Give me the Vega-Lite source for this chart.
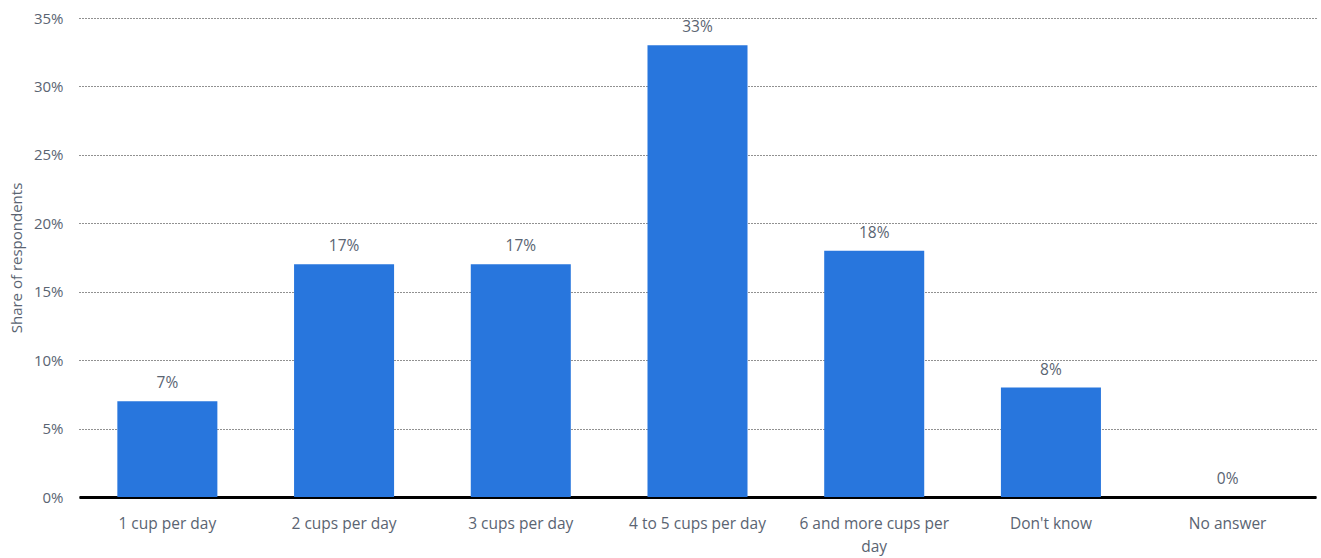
{
  "$schema": "https://vega.github.io/schema/vega-lite/v6.json",
  "autosize": {"type": "none"},
  "width": 1237,
  "height": 479,
  "padding": {"left": 79, "top": 18, "right": 5, "bottom": 61},
  "background": "white",
  "config": {
    "font": "Open Sans",
    "view": {"stroke": null}
  },
  "data": {
    "values": [
      {"category": "1 cup per day", "share": 0.07},
      {"category": "2 cups per day", "share": 0.17},
      {"category": "3 cups per day", "share": 0.17},
      {"category": "4 to 5 cups per day", "share": 0.33},
      {"category": "6 and more cups per day", "share": 0.18},
      {"category": "Don't know", "share": 0.08},
      {"category": "No answer", "share": 0}
    ]
  },
  "encoding": {
    "x": {
      "field": "category",
      "type": "nominal",
      "sort": null,
      "scale": {"paddingInner": 0.434, "paddingOuter": 0.217},
      "axis": {
        "title": null,
        "labelAngle": 0,
        "labelFontSize": 15.5,
        "labelColor": "#5a6472",
        "labelPadding": 19,
        "labelLimit": 300,
        "labelLineHeight": 23,
        "ticks": false,
        "domain": true,
        "domainColor": "#000000",
        "domainWidth": 3,
        "labelExpr": "datum.label == '6 and more cups per day' ? ['6 and more cups per', 'day'] : datum.label"
      }
    },
    "y": {
      "field": "share",
      "type": "quantitative",
      "scale": {"domain": [0, 0.35], "nice": false},
      "axis": {
        "title": "Share of respondents",
        "titleFontSize": 15,
        "titleFontWeight": "normal",
        "titleColor": "#5a6472",
        "titlePadding": 9,
        "values": [0, 0.05, 0.1, 0.15, 0.2, 0.25, 0.3, 0.35],
        "format": ".0%",
        "labelFontSize": 15,
        "labelColor": "#5a6472",
        "labelPadding": 16,
        "ticks": false,
        "domain": false,
        "grid": true,
        "gridColor": "#222222",
        "gridDash": [1, 2],
        "gridWidth": 1
      }
    }
  },
  "layer": [
    {
      "mark": {"type": "bar", "color": "#2876dd"}
    },
    {
      "mark": {"type": "text", "dy": -10, "baseline": "bottom", "fontSize": 15.5, "color": "#5a6472"},
      "encoding": {
        "text": {"field": "share", "type": "quantitative", "format": ".0%"}
      }
    }
  ]
}
